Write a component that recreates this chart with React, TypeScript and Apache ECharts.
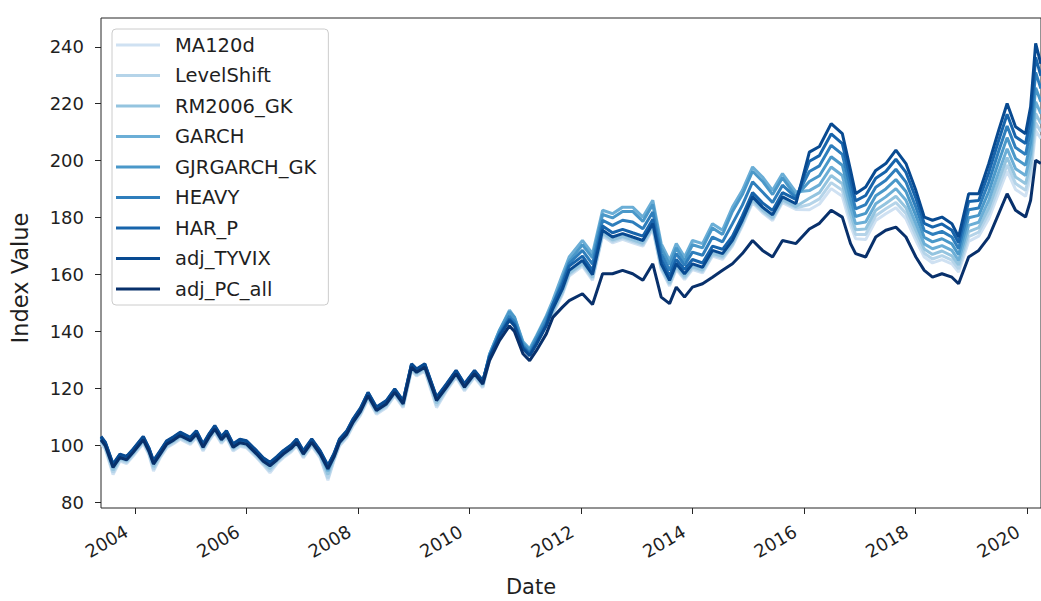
import React, { useEffect, useRef } from "react";
import * as echarts from "echarts";

const dates = [
  "2003-05-23","2003-06-20","2003-08-10","2003-09-24","2003-11-07","2003-12-20","2004-02-24","2004-04-01","2004-05-01","2004-06-14",
  "2004-07-27","2004-09-12","2004-10-23","2004-12-28","2005-02-06","2005-03-22","2005-05-01","2005-06-07","2005-07-20","2005-08-22",
  "2005-10-05","2005-11-18","2006-01-01","2006-03-08","2006-04-20","2006-06-03","2006-07-20","2006-08-29","2006-10-20","2006-11-25",
  "2007-01-08","2007-03-04","2007-04-28","2007-06-18","2007-07-28","2007-09-02","2007-10-20","2007-11-28","2008-01-18","2008-03-07",
  "2008-05-01","2008-07-05","2008-08-29","2008-10-23","2008-12-17","2009-01-19","2009-03-14","2009-05-30","2009-08-04","2009-10-05",
  "2009-11-29","2010-02-03","2010-03-29","2010-05-12","2010-07-17","2010-09-20","2010-10-23","2010-12-17","2011-01-30","2011-03-15",
  "2011-05-19","2011-07-01","2011-09-02","2011-10-16","2012-01-11","2012-03-17","2012-05-22","2012-07-26","2012-09-30","2012-12-05",
  "2013-02-10","2013-04-16","2013-06-10","2013-08-04","2013-09-17","2013-11-10","2014-01-01","2014-03-08","2014-05-12","2014-07-17",
  "2014-09-20","2014-11-24","2015-01-30","2015-04-05","2015-06-10","2015-08-14","2015-11-10","2016-02-06","2016-04-12","2016-06-28",
  "2016-09-09","2016-11-02","2016-12-05","2017-02-09","2017-04-16","2017-06-21","2017-08-26","2017-10-31","2018-01-04","2018-02-28",
  "2018-04-23","2018-06-24","2018-08-28","2018-10-11","2018-12-16","2019-02-20","2019-04-27","2019-07-01","2019-08-25","2019-10-19",
  "2019-12-24","2020-01-26","2020-02-28","2020-04-02",
];

const ma120d = [
  100.7, 98.7, 89.8, 94.5, 93.7, 96.3, 100.7, 96.7, 91, 95.7,
  99.2, 100.7, 102.2, 100.4, 102.7, 98.1, 101.7, 104.5, 100.7, 102.7,
  98.1, 99.7, 99.2, 95.7, 93.2, 90.4, 93.7, 95.7, 97.7, 99.8,
  95.7, 99.8, 95.7, 87.8, 94.7, 99.8, 102.7, 106.7, 110.7, 116.2,
  111, 113.3, 117.4, 113.3, 126.2, 124.4, 126.2, 113.3, 119.2, 123.9,
  119.2, 123.9, 120.3, 130, 138, 144, 142, 134, 131.5, 135.5,
  142, 146, 153, 159.5, 163, 158, 173.6, 171.2, 172.4, 171.2,
  170, 175.9, 161.8, 156, 161.8, 158.3, 161.8, 160.6, 166.5, 165.4,
  170, 177.1, 185.3, 181.7, 179, 185.3, 182.9, 182.8, 184.8, 190.2,
  187.5, 177.3, 172.6, 172.3, 179, 181.4, 183.5, 179.6, 172, 166.2,
  164.1, 165.3, 163.8, 160.9, 171.7, 173.5, 179.6, 188.7, 196.3, 189.9,
  187.5, 194.3, 210.5, 207.8,
];

const levelShift = [
  101.1, 99.1, 90.5, 94.9, 94.1, 96.7, 101.1, 97.1, 91.7, 96.1,
  99.6, 101.1, 102.6, 100.8, 103.1, 98.5, 102.1, 104.9, 101.1, 103.1,
  98.5, 100.1, 99.6, 96.1, 93.6, 91.1, 94.1, 96.1, 98.1, 100.2,
  96.1, 100.2, 96.1, 88.5, 95.1, 100.2, 103.1, 107.1, 111.1, 116.6,
  111.4, 113.7, 117.8, 113.7, 126.6, 124.8, 126.6, 114, 119.6, 124.3,
  119.6, 124.3, 120.7, 130.5, 138.5, 144.5, 142.5, 134.5, 132, 136,
  142.5, 146.5, 153.5, 160, 163.5, 158.5, 174.1, 171.7, 172.9, 171.7,
  170.5, 176.4, 162.3, 156.5, 162.3, 158.8, 162.3, 161.1, 167, 165.9,
  170.5, 177.6, 185.8, 182.2, 179.5, 185.8, 183.4, 184.6, 186.6, 192.3,
  189.6, 179.1, 174.1, 174.1, 180.7, 183.1, 185.3, 181.5, 173.7, 167.5,
  165.5, 166.7, 165.1, 162, 173.3, 174.9, 181.5, 190.8, 198.5, 192,
  189.6, 196.6, 213.3, 210.2,
];

const rm2006 = [
  101.6, 99.6, 91.3, 95.4, 94.6, 97.2, 101.6, 97.6, 92.5, 96.6,
  100.1, 101.6, 103.1, 101.3, 103.6, 99, 102.6, 105.4, 101.6, 103.6,
  99, 100.6, 100.1, 96.6, 94.1, 91.9, 94.6, 96.6, 98.6, 100.7,
  96.6, 100.7, 96.6, 89.8, 95.6, 100.7, 103.6, 107.6, 111.6, 117.1,
  111.9, 114.2, 118.3, 114.2, 127.1, 125.3, 127.1, 114.8, 120.1, 124.8,
  120.1, 124.8, 121.2, 131, 139, 145, 143, 135, 132.5, 136.5,
  143, 147, 154, 160.5, 164, 159, 174.6, 172.2, 173.4, 172.2,
  171, 176.9, 162.8, 157, 162.8, 159.3, 162.8, 161.6, 167.5, 166.4,
  171, 178.1, 186.3, 182.7, 180, 186.3, 183.9, 186.8, 188.8, 194.8,
  191.9, 181.2, 175.8, 176, 182.6, 185, 187.5, 183.5, 175.6, 169,
  167.1, 168.3, 166.6, 163.4, 175.1, 176.5, 183.5, 193.1, 201.1, 194.3,
  191.9, 199.2, 216.6, 213,
];

const garch = [
  102.2, 100.2, 92.5, 96, 95.2, 97.8, 102.2, 98.2, 93.7, 97.2,
  100.7, 102.2, 103.7, 101.9, 104.2, 99.6, 103.2, 106, 102.2, 104.2,
  99.6, 101.2, 100.7, 97.2, 94.7, 93.1, 95.2, 97.2, 99.2, 101.3,
  97.2, 101.3, 97.2, 91, 96.2, 101.3, 104.2, 108.2, 112.2, 117.7,
  112.5, 114.8, 118.9, 114.8, 127.7, 125.9, 127.7, 116, 120.7, 125.4,
  120.7, 125.4, 121.8, 132, 140.5, 147.5, 145, 136.5, 134, 138.5,
  145.5, 151, 160, 166.2, 172, 167.4, 182.6, 181.4, 183.7, 183.7,
  180.2, 186.1, 170.9, 165, 170.9, 166.2, 172, 170.9, 177.9, 175.6,
  183.7, 189.6, 197.8, 194.3, 189.6, 195.5, 189, 189.5, 191.5, 197.8,
  194.8, 183.7, 177.9, 178.5, 184.9, 187.3, 190.2, 186.1, 177.9, 170.8,
  169.1, 170.2, 168.5, 165, 177.3, 178.4, 186.1, 196, 204.2, 197.2,
  194.8, 202.5, 220.7, 216.5,
];

const gjrgarch = [
  102.5, 100.5, 92.8, 96.3, 95.5, 98.1, 102.5, 98.5, 94, 97.5,
  101, 102.5, 104, 102.2, 104.5, 99.9, 103.5, 106.3, 102.5, 104.5,
  99.9, 101.5, 101, 97.5, 95, 93.4, 95.5, 97.5, 99.5, 101.6,
  97.5, 101.6, 97.5, 91.5, 96.5, 101.6, 104.5, 108.5, 112.5, 118,
  112.8, 115.1, 119.2, 115.1, 128, 126.2, 128, 116.3, 121, 125.7,
  121, 125.7, 122.1, 132, 140.5, 147, 145, 136, 133.5, 138,
  145, 149.5, 158.5, 164.7, 170.5, 165.9, 181.1, 179.9, 182.2, 182.2,
  178.7, 184.6, 169.4, 163.5, 169.4, 164.7, 170.5, 169.4, 176.4, 174.1,
  182.2, 188.1, 196.3, 192.8, 188.1, 194, 187.5, 192.7, 194.7, 201.4,
  198.4, 186.8, 180.4, 181.5, 187.7, 190.1, 193.4, 189.2, 180.7, 173.1,
  171.5, 172.6, 170.8, 167, 180, 180.8, 189.2, 199.6, 208.1, 200.8,
  198.4, 206.4, 225.6, 220.7,
];

const heavy = [
  102.8, 100.8, 93.1, 96.6, 95.8, 98.4, 102.8, 98.8, 94.3, 97.8,
  101.3, 102.8, 104.3, 102.5, 104.8, 100.2, 103.8, 106.6, 102.8, 104.8,
  100.2, 101.8, 101.3, 97.8, 95.3, 93.7, 95.8, 97.8, 99.8, 101.9,
  97.8, 101.9, 97.8, 92.6, 96.8, 101.9, 104.8, 108.8, 112.8, 118.3,
  113.1, 115.4, 119.5, 115.4, 128.3, 126.5, 128.3, 116.6, 121.3, 126,
  121.3, 126, 122.4, 131.5, 139.5, 145.5, 143.5, 135, 132.5, 137,
  143.5, 149.5, 157.5, 163.9, 168.5, 163.7, 179.1, 177.3, 179.1, 178.5,
  176.1, 182, 167.4, 161.5, 167.4, 163.3, 167.9, 166.8, 173.2, 171.5,
  177.9, 184.4, 192.6, 189, 185.3, 191.4, 187, 196.2, 198.2, 205.4,
  202.2, 190.2, 183.1, 184.6, 190.7, 193.1, 197, 192.5, 183.7, 175.5,
  174.1, 175.2, 173.2, 169.1, 182.8, 183.4, 192.5, 203.4, 212.2, 204.6,
  202.2, 210.7, 231, 225.3,
];

const harP = [
  103, 101, 93.3, 96.8, 96, 98.6, 103, 99, 94.5, 98,
  101.5, 103, 104.5, 102.7, 105, 100.4, 104, 106.8, 103, 105,
  100.4, 102, 101.5, 98, 95.5, 93.9, 96, 98, 100, 102.1,
  98, 102.1, 98, 92.8, 97, 102.1, 105, 109, 113, 118.5,
  113.3, 115.6, 119.7, 115.6, 128.5, 126.7, 128.5, 116.8, 121.5, 126.2,
  121.5, 126.2, 122.6, 131, 139, 144.5, 142.5, 134.5, 132, 136,
  142.5, 149.5, 156.5, 163, 166.5, 161.5, 177.1, 174.7, 175.9, 174.7,
  173.5, 179.4, 165.3, 159.5, 165.3, 161.8, 165.3, 164.1, 170, 168.9,
  173.5, 180.6, 188.8, 185.2, 182.5, 188.8, 186.4, 199.8, 201.8, 209.4,
  206, 193.5, 185.9, 187.8, 193.8, 196.2, 200.5, 195.9, 186.8, 178,
  176.7, 177.8, 175.6, 171.2, 185.7, 186, 195.9, 207.2, 216.3, 208.4,
  206, 215, 236.3, 229.8,
];

const adjTyvix = [
  103.2, 101.2, 93.5, 97, 96.2, 98.8, 103.2, 99.2, 94.7, 98.2,
  101.7, 103.2, 104.7, 102.9, 105.2, 100.6, 104.2, 107, 103.2, 105.2,
  100.6, 102.2, 101.7, 98.2, 95.7, 94.1, 96.2, 98.2, 100.2, 102.3,
  98.2, 102.3, 98.2, 93, 97.2, 102.3, 105.2, 109.2, 113.2, 118.7,
  113.5, 115.8, 119.9, 115.8, 128.7, 126.9, 128.7, 117, 121.7, 126.4,
  121.7, 126.4, 122.8, 131, 138.5, 144, 142, 134, 131.5, 135.5,
  142, 148, 155, 161.5, 165, 160, 175.6, 173.2, 174.4, 173.2,
  172, 177.9, 163.8, 158, 163.8, 160.3, 163.8, 162.6, 168.5, 167.4,
  172, 179.1, 187.3, 183.7, 181, 187.3, 184.9, 203, 205, 213,
  209.5, 196.6, 188.4, 190.8, 196.6, 199, 203.7, 199, 189.6, 180.2,
  179.1, 180.2, 177.9, 173.2, 188.4, 188.4, 199, 210.7, 220.1, 211.9,
  209.5, 218.9, 241.2, 234,
];

const adjPcAll = [
  102, 100, 92.3, 95.8, 95, 97.6, 102, 98, 93.5, 97,
  100.5, 102, 103.5, 101.7, 104, 99.4, 103, 105.8, 102, 104,
  99.4, 101, 100.5, 97, 94.5, 92.9, 95, 97, 99, 101.1,
  97, 101.1, 97, 91.8, 96, 101.1, 104, 108, 112, 117.5,
  112.3, 114.6, 118.7, 114.6, 127.5, 125.7, 127.5, 115.8, 120.5, 125.2,
  120.5, 125.2, 121.6, 129.8, 136.9, 142, 140, 132.2, 129.8, 133.3,
  139.2, 145, 148.6, 150.9, 153.3, 149.5, 160.3, 160.3, 161.5, 160.3,
  158, 163.8, 152.1, 149.8, 155.6, 152.1, 155.6, 156.8, 159.1, 161.5,
  163.8, 167.4, 172, 168.5, 166.2, 172, 170.9, 176, 178, 182.6,
  180.2, 170.9, 167.4, 166.2, 173.2, 175.6, 176.7, 173.2, 166.2, 161.5,
  159.1, 160.3, 159.1, 156.8, 166.2, 168.5, 173.2, 181.4, 188.4, 182.6,
  180.2, 186.1, 200.2, 199,
];

const seriesNames = ["MA120d", "LevelShift", "RM2006_GK", "GARCH", "GJRGARCH_GK", "HEAVY", "HAR_P", "adj_TYVIX", "adj_PC_all"];
const seriesValues = [ma120d, levelShift, rm2006, garch, gjrgarch, heavy, harP, adjTyvix, adjPcAll];
const seriesColors = ["#cfe1f2", "#b5d4e9", "#94c4df", "#6baed6", "#4a98c9", "#2e7ebc", "#1764ab", "#084a91", "#08306b"];

const yTicks = [80, 100, 120, 140, 160, 180, 200, 220, 240];
const xTickYears = [2004, 2006, 2008, 2010, 2012, 2014, 2016, 2018, 2020];

const ts = (s: string) => {
  const [y, m, d] = s.split("-").map(Number);
  return Date.UTC(y, m - 1, d);
};

const FONT = "DejaVu Sans";
const TEXT = "#1f1f1f";

export default function App() {
  const ref = useRef<HTMLDivElement>(null);
  useEffect(() => {
    if (!ref.current) return;
    const chart = echarts.init(ref.current, undefined, { renderer: "svg" });
    const xTicks = xTickYears.map((y) => Date.UTC(y, 0, 1));
    const option: any = {
      animation: false,
      backgroundColor: "#ffffff",
      grid: {
        left: 101,
        top: 18,
        width: 941,
        height: 490,
        show: true,
        borderColor: "#262626",
        borderWidth: 1,
        backgroundColor: "transparent",
      },
      xAxis: {
        type: "value",
        min: ts("2003-05-23"),
        max: ts("2020-04-03"),
        scale: true,
        axisLine: { show: false },
        splitLine: { show: false },
        axisTick: { show: true, length: 6, customValues: xTicks, lineStyle: { color: "#262626", width: 1 } },
        axisLabel: {
          customValues: xTicks,
          rotate: 30,
          margin: 17,
          padding: [0, 10, 0, 0],
          fontFamily: FONT,
          fontSize: 18,
          color: TEXT,
          formatter: (v: number) => String(new Date(v).getUTCFullYear()),
        },
      },
      yAxis: {
        type: "value",
        min: 78.07,
        max: 250.1,
        axisLine: { show: false },
        splitLine: { show: false },
        axisTick: { show: true, length: 6, customValues: yTicks, lineStyle: { color: "#262626", width: 1 } },
        axisLabel: {
          customValues: yTicks,
          margin: 17,
          fontFamily: FONT,
          fontSize: 18,
          color: TEXT,
        },
      },
      legend: {
        orient: "vertical",
        left: 112,
        top: 29,
        data: seriesNames,
        icon: "rect",
        itemWidth: 44,
        itemHeight: 3,
        itemGap: 10.5,
        padding: [6, 12, 6, 4],
        backgroundColor: "rgba(255,255,255,0.8)",
        borderColor: "#cccccc",
        borderWidth: 1,
        borderRadius: 4,
        textStyle: { fontFamily: FONT, fontSize: 19.5, color: TEXT, lineHeight: 20, padding: [0, 0, 0, 10] },
      },
      graphic: [
        {
          type: "text",
          x: 20,
          y: 278,
          rotation: Math.PI / 2,
          style: { text: "Index Value", font: `22.5px '${FONT}'`, fill: TEXT, align: "center", verticalAlign: "middle" },
        },
        {
          type: "text",
          x: 531,
          y: 587,
          style: { text: "Date", font: `21px '${FONT}'`, fill: TEXT, align: "center", verticalAlign: "middle" },
        },
      ],
      series: seriesNames.map((name, i) => ({
        name,
        type: "line",
        symbol: "none",
        showSymbol: false,
        color: seriesColors[i],
        lineStyle: { width: 3, color: seriesColors[i] },
        data: dates.map((d, j) => [ts(d), seriesValues[i][j]]),
      })),
    };
    chart.setOption(option);
    return () => chart.dispose();
  }, []);
  return <div ref={ref} style={{ position: "absolute", left: 0, top: 0, width: 1041, height: 601 }} />;
}
